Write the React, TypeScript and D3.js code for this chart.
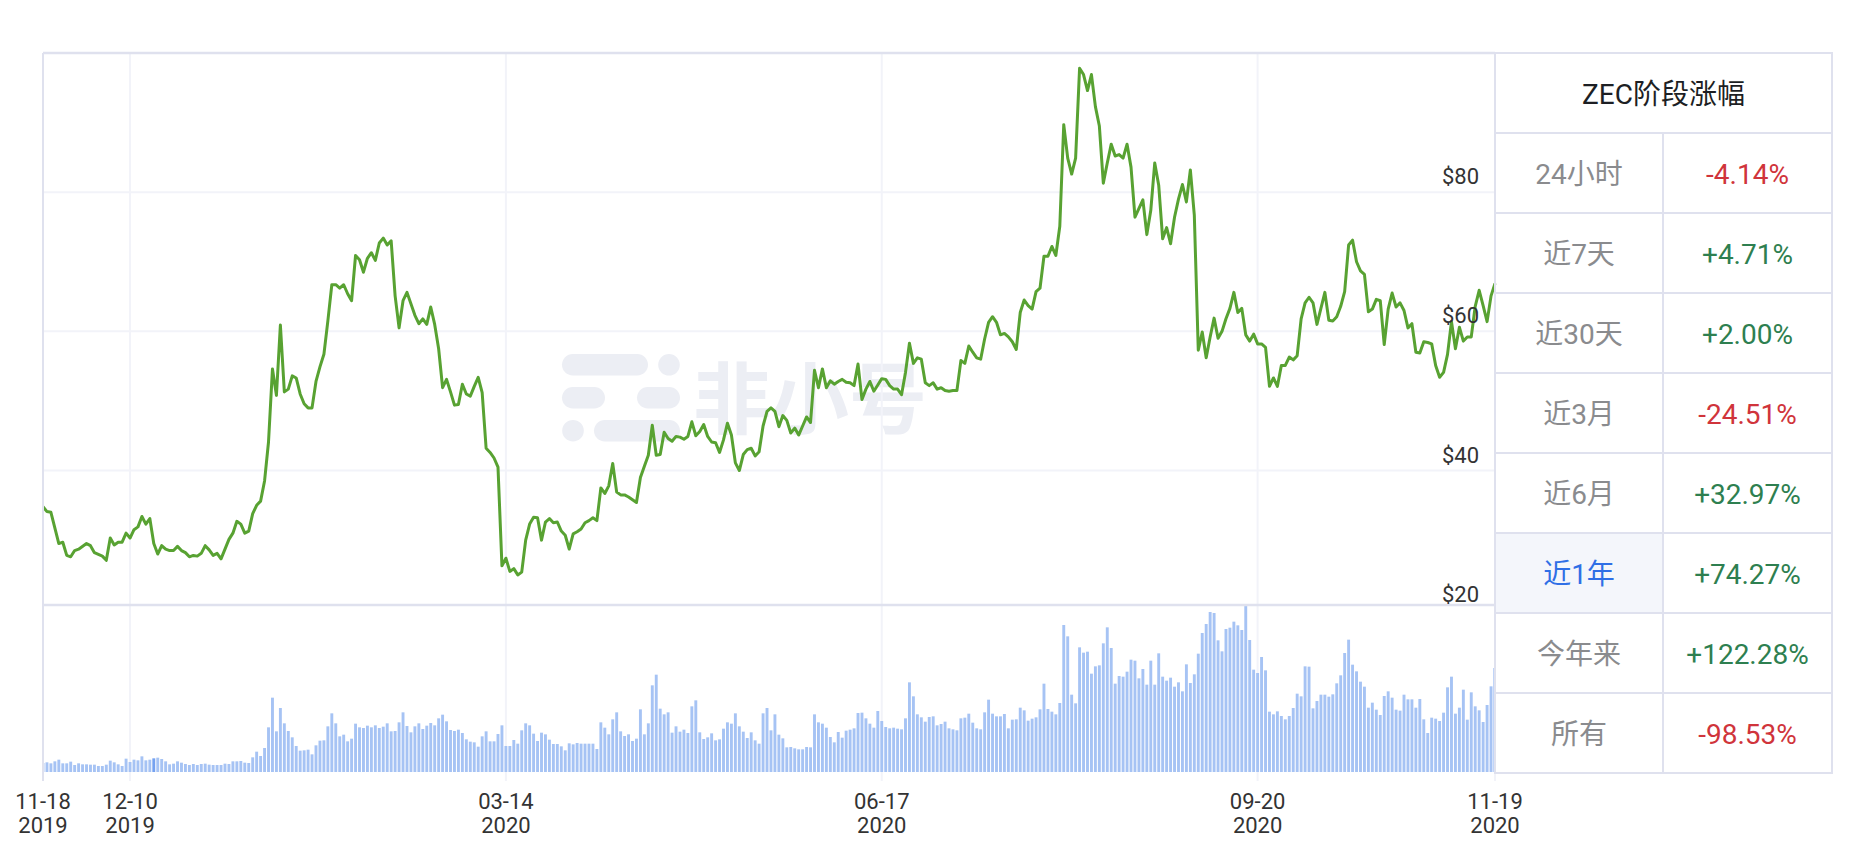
import { useEffect, useRef } from "react";
import * as d3 from "d3";

const startDate = "2019-11-18";
const endDate = "2020-11-19";
const tickDates = ["2019-11-18", "2019-12-10", "2020-03-14", "2020-06-17", "2020-09-20", "2020-11-19"];
const priceTicks = [20, 40, 60, 80];

// one entry per day from 2019-11-18, null where no point could be read
const dailyPrice: (number | null)[] = [
  34.8, 34.1, 34.0, null, 29.5, 29.7, 27.8, 27.6, 28.5, 28.7,
  null, 29.5, 29.2, 28.2, null, 27.7, 27.1, 30.3, 29.3, 29.7,
  29.7, 31.0, 30.3, 31.5, 31.9, 33.4, 32.3, 33.1, 29.5, 28.0,
  29.2, 28.7, 28.5, 28.5, 29.1, 28.5, 28.2, 27.6, 27.8, 27.7,
  28.1, 29.2, 28.6, 27.8, 28.1, 27.3, 28.7, 30.1, 31.0, 32.7,
  32.3, 31.0, 31.3, 33.8, 35.0, 35.6, 38.5, 44.1, 54.6, 50.8,
  60.9, 51.3, 51.7, 53.6, 53.3, 51.0, 49.6, 49.0, 49.0, 52.8,
  54.9, 56.7, 61.5, 66.7, 66.7, 66.2, 66.7, 65.4, 64.4, 70.9,
  70.3, 68.5, 70.5, 71.3, 70.2, 72.7, 73.4, 72.4, 73.0, 65.1,
  60.5, 64.4, 65.6, null, 62.3, 61.1, 61.8, 61.0, 63.5, 61.0,
  57.5, 51.9, 53.1, 51.3, 49.4, 49.5, 52.4, 51.0, 50.7, 52.1,
  53.4, 51.2, 43.2, 42.6, 41.8, 40.5, 26.3, 27.4, 25.5, 25.9,
  25.0, 25.4, 30.0, 32.3, 33.3, 33.2, 30.0, 32.6, 33.1, 32.5,
  32.6, 31.3, 30.7, 28.7, 30.9, 31.2, 31.6, 32.5, 32.8, 33.2,
  32.8, 37.5, 36.7, 37.8, 41.0, 36.9, 36.5, 36.5, 36.2, 35.8,
  35.4, 39.0, 40.6, 42.2, 46.5, 42.2, 42.3, 45.5, 44.6, 44.2,
  44.9, 44.8, 44.5, 44.9, 47.0, 45.0, 45.6, 46.6, 44.9, 44.1,
  44.0, 42.6, 44.4, 46.8, 45.1, 41.1, 40.0, 42.3, 43.0, 43.2,
  42.1, 42.7, 46.4, 48.5, 49.0, 48.5, 46.3, 47.9, 47.2, 45.4,
  46.1, 45.1, 46.4, 47.7, 46.9, 54.4, 51.9, 54.6, 51.9, 52.9,
  52.4, 52.8, 53.1, 52.7, 52.6, 52.2, 55.3, 50.2, 51.7, 52.8,
  51.4, 52.3, 53.2, 53.1, 52.2, 51.7, 51.7, 50.9, 54.1, 58.3,
  55.4, 56.2, 56.0, 52.6, 52.2, 52.6, 51.7, 51.9, 51.5, 51.4,
  51.5, 51.5, 55.8, 55.4, 57.9, 57.0, 56.2, 56.0, 58.9, 61.3,
  62.1, 61.3, 59.5, 59.7, 59.2, 58.5, 57.4, 62.7, 64.5, 63.7,
  63.2, 65.7, 66.2, 70.8, 70.8, 72.2, 70.9, 75.1, 89.7, 84.9,
  82.6, 84.9, 97.8, 96.9, 94.6, 96.9, 92.3, 89.5, 81.3, 84.2,
  86.9, 85.2, 85.4, 84.9, 86.9, 83.6, 76.4, null, 78.9, 73.9,
  77.4, 84.2, 81.0, 73.3, 74.9, 72.6, 76.4, 79.0, 81.1, 78.6,
  83.2, 76.7, 57.3, 59.9, 56.2, 59.2, 61.9, 59.0, 60.0, 61.8,
  63.3, 65.6, 62.7, 63.3, 59.5, 58.6, 59.6, 58.2, 58.2, 57.7,
  52.1, 53.3, 52.1, 55.1, 55.1, 56.3, 55.9, 56.5, 61.8, 64.1,
  64.9, 64.1, 61.0, 63.3, 65.6, 61.6, 61.5, 62.1, 63.6, 65.7,
  72.4, 73.1, 70.0, 68.7, 68.2, 62.8, 63.2, 64.6, 64.4, 58.1,
  63.2, 65.5, 63.5, 64.1, 63.0, 60.5, 61.1, 57.0, 56.9, 58.5,
  58.4, 58.2, 55.1, 53.4, 54.1, 56.7, 61.4, 57.5, 60.6, 58.6,
  59.2, 59.2, 63.6, 65.9, 63.7, 61.4, 65.1, 66.9,
];

// daily volume, relative units (no axis in the original)
const dailyVolume: number[] = [
  27, 29, 26, 32, 37, 26, 26, 31, 21, 26,
  23, 23, 22, 22, 18, 18, 22, 34, 29, 23,
  18, 40, 30, 37, 35, 47, 35, 37, 41, 43,
  39, 32, 23, 25, 32, 28, 24, 21, 24, 21,
  24, 25, 22, 21, 21, 21, 25, 24, 32, 32,
  33, 28, 27, 44, 61, 48, 72, 134, 223, 122,
  192, 146, 123, 104, 78, 64, 65, 67, 53, 80,
  94, 95, 137, 176, 146, 107, 112, 92, 100, 145,
  134, 132, 139, 134, 140, 132, 136, 146, 122, 123,
  149, 179, 138, 119, 137, 146, 129, 139, 147, 140,
  161, 172, 152, 126, 123, 127, 117, 98, 91, 89,
  76, 107, 122, 92, 92, 114, 140, 78, 78, 96,
  85, 125, 146, 140, 115, 93, 118, 113, 97, 84,
  84, 77, 65, 86, 83, 87, 85, 85, 85, 85, 69,
  149, 133, 113, 158, 179, 122, 108, 113, 93, 100,
  188, 113, 146, 260, 292, 190, 173, 179, 118, 137,
  121, 127, 117, 197, 215, 119, 99, 104, 116, 95,
  98, 130, 149, 145, 176, 137, 121, 102, 119, 95,
  85, 176, 192,
  125, 173, 112, 101, 74, 75, 71, 68, 68, 75,
  74, 173, 149, 145, 133, 105, 89, 120, 103, 124,
  127, 131, 177, 178, 161, 145, 133, 183, 153, 135,
  131, 133, 130, 128, 161, 269, 227, 173, 164, 151,
  165, 167, 140, 144, 151, 131, 128, 125, 161, 163,
  175, 148, 131, 128, 179, 217, 175, 167, 167, 174,
  131, 157, 158, 193, 185, 154, 160, 164, 188, 265,
  189, 181, 173, 207, 441, 407, 232, 206, 374, 358,
  361, 295, 317, 320, 386, 434, 372, 265, 288, 286,
  301, 337, 334, 281, 309, 262, 334, 262, 356, 286,
  274, 283, 256, 269, 242, 323, 267, 293, 355, 417,
  444, 480, 477, 395, 362, 429, 433, 451, 440, 426,
  498, 396, 307, 297, 345, 305, 181, 173, 182, 168,
  158, 168, 192, 235, 227, 317, 316, 191, 213, 232,
  232, 226, 233, 266, 290, 357, 397, 322, 302, 271,
  256, 193, 208, 187, 171, 228, 242, 223, 187, 184,
  232, 218, 218, 193, 219, 158, 117, 163, 160, 153,
  178, 254, 286, 175, 193, 247, 157, 239, 197, 185,
  150, 201, 257, 312,
];
const highlightedBars = [28, 367];

const tableTitle = "ZEC阶段涨幅";
const periodLabels = ["24小时", "近7天", "近30天", "近3月", "近6月", "近1年", "今年来", "所有"];
const periodChanges = ["-4.14%", "+4.71%", "+2.00%", "-24.51%", "+32.97%", "+74.27%", "+122.28%", "-98.53%"];
const activePeriod = "近1年";
const watermarkText = "非小号";

const FONT = "Roboto, 'Noto Sans CJK SC', sans-serif";

export default function App() {
  const svgRef = useRef<SVGSVGElement | null>(null);

  useEffect(() => {
    if (!svgRef.current) return;
    const svg = d3.select(svgRef.current);
    svg.selectAll("*").remove();

    const left = 43;
    const right = 1495;
    const top = 53;
    const split = 605;
    const bottom = 772;
    const axisEnd = 781;
    const border = "#dfe1ee";
    const grid = "#f2f3f9";

    const parse = d3.utcParse("%Y-%m-%d");
    const t0 = parse(startDate)!;
    const t1 = parse(endDate)!;
    const x = d3.scaleUtc().domain([t0, t1]).range([left, right]);
    const y = d3.scaleLinear().domain([20, 100]).range([609.7, top]);
    const yv = d3.scaleLinear().domain([0, d3.max(dailyVolume)!]).range([bottom, split + 1]);
    const dayDate = (i: number) => d3.utcDay.offset(t0, i);

    svg.append("rect").attr("width", 1864).attr("height", 846).attr("fill", "#fff");

    // watermark
    const wm = svg.append("g").attr("fill", "#eceef4");
    wm.append("rect").attr("x", 562).attr("y", 354).attr("width", 86).attr("height", 21.5).attr("rx", 10.75);
    wm.append("circle").attr("cx", 669).attr("cy", 364.8).attr("r", 10.8);
    wm.append("rect").attr("x", 562).attr("y", 387).attr("width", 43).attr("height", 21.5).attr("rx", 10.75);
    wm.append("rect").attr("x", 637).attr("y", 387).attr("width", 43).attr("height", 21.5).attr("rx", 10.75);
    wm.append("circle").attr("cx", 573).attr("cy", 430.7).attr("r", 10.8);
    wm.append("rect").attr("x", 594).attr("y", 420).attr("width", 86).attr("height", 21.5).attr("rx", 10.75);
    wm.append("text")
      .attr("x", 693).attr("y", 428)
      .attr("font-family", FONT).attr("font-size", 78).attr("font-weight", 700)
      .text(watermarkText);

    const ticks = tickDates.map((d) => parse(d)!);

    // grid
    svg.append("g").selectAll("line").data(ticks).enter().append("line")
      .attr("x1", (d) => x(d)).attr("x2", (d) => x(d))
      .attr("y1", top).attr("y2", axisEnd)
      .attr("stroke", grid).attr("stroke-width", 2);
    svg.append("g").selectAll("line").data(priceTicks.filter((v) => v > 20)).enter().append("line")
      .attr("x1", left).attr("x2", right)
      .attr("y1", (d) => y(d)).attr("y2", (d) => y(d))
      .attr("stroke", grid).attr("stroke-width", 2);

    // volume bars
    svg.append("defs").append("clipPath").attr("id", "plot-clip")
      .append("rect").attr("x", left).attr("y", top).attr("width", right - left).attr("height", axisEnd - top);
    svg.append("g").attr("clip-path", "url(#plot-clip)")
      .selectAll("rect").data(dailyVolume).enter().append("rect")
      .attr("x", (_, i) => x(dayDate(i)) - 1.45)
      .attr("y", (d) => yv(d))
      .attr("width", 2.9)
      .attr("height", (d) => bottom - yv(d))
      .attr("fill", (_, i) => (highlightedBars.includes(i) ? "#75a2f0" : "#a6c3f4"));

    // price line
    const pts = dailyPrice
      .map((v, i) => ({ date: dayDate(i), v }))
      .filter((p) => p.v !== null) as { date: Date; v: number }[];
    const line = d3.line<{ date: Date; v: number }>()
      .x((d) => x(d.date))
      .y((d) => y(d.v));
    svg.append("path").datum(pts)
      .attr("d", line)
      .attr("fill", "none")
      .attr("stroke", "#58a232")
      .attr("stroke-width", 3)
      .attr("stroke-linejoin", "round");

    // frame
    svg.append("line").attr("x1", left).attr("x2", left).attr("y1", top).attr("y2", axisEnd)
      .attr("stroke", border).attr("stroke-width", 2);
    svg.append("line").attr("x1", left).attr("x2", right).attr("y1", top).attr("y2", top)
      .attr("stroke", border).attr("stroke-width", 2.5);
    svg.append("line").attr("x1", left).attr("x2", right).attr("y1", split).attr("y2", split)
      .attr("stroke", border).attr("stroke-width", 2.5);

    // price labels
    svg.append("g").selectAll("text").data(priceTicks).enter().append("text")
      .attr("x", 1479).attr("y", (d) => y(d) - 8)
      .attr("text-anchor", "end")
      .attr("font-family", FONT).attr("font-size", 22).attr("fill", "#333")
      .text((d) => `$${d}`);

    // date labels
    const fmtDay = d3.utcFormat("%m-%d");
    const fmtYear = d3.utcFormat("%Y");
    const xl = svg.append("g").selectAll("text").data(ticks).enter().append("text")
      .attr("text-anchor", "middle")
      .attr("font-family", FONT).attr("font-size", 22).attr("fill", "#333");
    xl.append("tspan").attr("x", (d) => x(d)).attr("y", 809).text((d) => fmtDay(d));
    xl.append("tspan").attr("x", (d) => x(d)).attr("y", 833).text((d) => fmtYear(d));

    // table
    const tl = 1495;
    const tr = 1832;
    const mid = 1663;
    const rowH = 80;
    const headB = top + rowH;
    const tb = svg.append("g");
    const activeIdx = periodLabels.indexOf(activePeriod);
    tb.append("rect")
      .attr("x", tl).attr("y", headB + activeIdx * rowH)
      .attr("width", mid - tl).attr("height", rowH)
      .attr("fill", "#f4f6fb");
    tb.append("rect")
      .attr("x", tl).attr("y", top).attr("width", tr - tl).attr("height", rowH * (periodLabels.length + 1))
      .attr("fill", "none").attr("stroke", border).attr("stroke-width", 2);
    tb.selectAll("line.row").data(periodLabels).enter().append("line")
      .attr("x1", tl).attr("x2", tr)
      .attr("y1", (_, i) => headB + i * rowH).attr("y2", (_, i) => headB + i * rowH)
      .attr("stroke", border).attr("stroke-width", 2);
    tb.append("line").attr("x1", mid).attr("x2", mid)
      .attr("y1", headB).attr("y2", headB + rowH * periodLabels.length)
      .attr("stroke", border).attr("stroke-width", 2);
    tb.append("text")
      .attr("x", (tl + tr) / 2).attr("y", top + rowH / 2 + 11)
      .attr("text-anchor", "middle")
      .attr("font-family", FONT).attr("font-size", 28).attr("fill", "#1d1f24")
      .text(tableTitle);
    tb.selectAll("text.lab").data(periodLabels).enter().append("text")
      .attr("x", (tl + mid) / 2).attr("y", (_, i) => headB + i * rowH + rowH / 2 + 11)
      .attr("text-anchor", "middle")
      .attr("font-family", FONT).attr("font-size", 28)
      .attr("fill", (d) => (d === activePeriod ? "#2f6fe6" : "#8a8b8e"))
      .text((d) => d);
    tb.selectAll("text.val").data(periodChanges).enter().append("text")
      .attr("x", (mid + tr) / 2).attr("y", (_, i) => headB + i * rowH + rowH / 2 + 11)
      .attr("text-anchor", "middle")
      .attr("font-family", FONT).attr("font-size", 28)
      .attr("fill", (d) => (d.startsWith("-") ? "#d0343b" : "#2e7f50"))
      .text((d) => d);
  }, []);

  return (
    <svg
      ref={svgRef}
      width={1864}
      height={846}
      style={{ position: "absolute", left: 0, top: 0 }}
    />
  );
}
